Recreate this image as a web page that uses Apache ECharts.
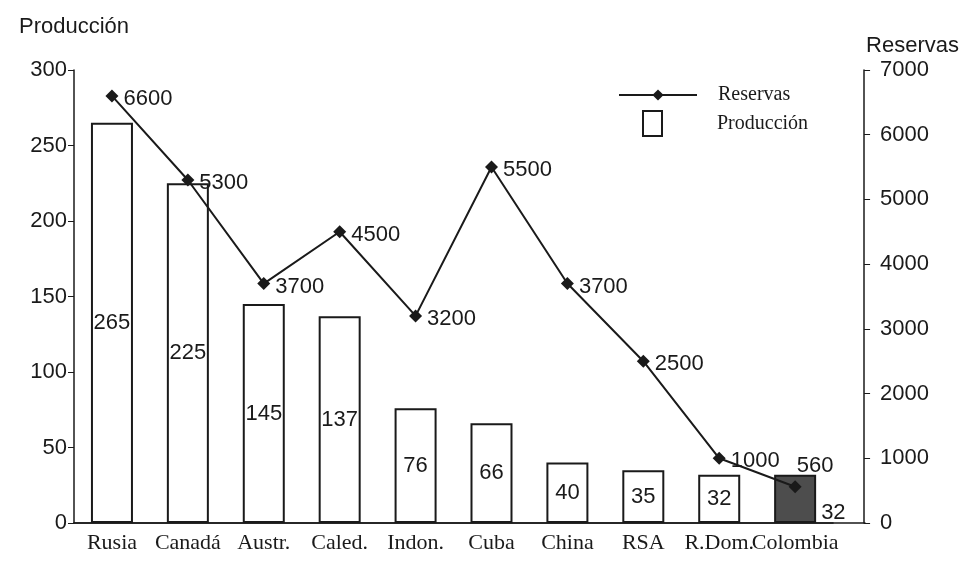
<!DOCTYPE html>
<html>
<head>
<meta charset="utf-8">
<script src="https://cdn.jsdelivr.net/npm/echarts@6/dist/echarts.min.js"></script>
<style>
  html, body { margin: 0; padding: 0; background: #fff; }
  #box { width: 962px; height: 565px; }
</style>
</head>
<body>
<div id="box"></div>
<script>
const categories = ['Rusia', 'Canadá', 'Austr.', 'Caled.', 'Indon.', 'Cuba', 'China', 'RSA', 'R.Dom.', 'Colombia']
const produccion = [265, 225, 145, 137, 76, 66, 40, 35, 32, 32]
const reservas = [6600, 5300, 3700, 4500, 3200, 5500, 3700, 2500, 1000, 560]

const SANS = 'Liberation Sans, Arial, sans-serif'
const SERIF = 'Liberation Serif, Times New Roman, serif'
const INK = '#1a1a1a'

const chart = echarts.init(document.getElementById('box'))

/* Colombia se resalta */
const barData = produccion.map((v, i) => {
    if (categories[i] !== 'Colombia') return v
    return {
        value: v,
        itemStyle: { color: '#4d4d4d' },
        label: { position: 'right', offset: [0, 14] }
    }
})

const lineData = reservas.map((v, i) => {
    if (categories[i] !== 'Colombia') return v
    return { value: v, label: { position: 'top', offset: [20, 2] } }
})

chart.setOption({
    animation: false,
    backgroundColor: '#fff',
    textStyle: { fontFamily: SANS, color: INK },
    grid: [
        { left: 74, right: 128, top: 70, bottom: 42 },
        { left: 74, right: 97, top: 70, bottom: 42 }
    ],
    legend: [
        {
            data: ['Reservas'],
            left: 613, top: 80,
            itemWidth: 78, itemHeight: 14,
            textStyle: { fontFamily: SERIF, fontSize: 20, color: INK, padding: [0, 0, 0, 16] }
        },
        {
            data: [{ name: 'Producción', icon: 'rect' }],
            left: 637, top: 105,
            itemWidth: 19, itemHeight: 25,
            textStyle: { fontFamily: SERIF, fontSize: 20, color: INK, padding: [4, 0, 0, 50] }
        }
    ],
    xAxis: [
        {
            type: 'category',
            gridIndex: 0,
            data: categories,
            axisLine: { lineStyle: { color: INK, width: 1.5 } },
            axisTick: { length: 5, lineStyle: { color: INK } },
            axisLabel: {
                fontFamily: SERIF, fontSize: 22, color: INK, margin: 9,
                interval: 0, hideOverlap: false, overflow: 'none', width: 140
            }
        },
        {
            type: 'value',
            gridIndex: 1,
            axisLine: { show: true, onZero: false, lineStyle: { color: INK, width: 1.5 } },
            axisTick: { show: false },
            axisLabel: { show: false },
            splitLine: { show: false }
        }
    ],
    yAxis: [
        {
            type: 'value',
            gridIndex: 0,
            min: 0, max: 300, interval: 50,
            name: 'Producción',
            nameLocation: 'end',
            nameGap: 32,
            nameTextStyle: { fontSize: 22, color: INK, align: 'center' },
            axisLine: { show: true, lineStyle: { color: INK, width: 1.5 } },
            axisTick: { show: true, length: 6, lineStyle: { color: INK } },
            axisLabel: { fontSize: 22, color: INK, margin: 7 },
            splitLine: { show: false }
        },
        {
            type: 'value',
            gridIndex: 0,
            position: 'right',
            offset: 31,
            min: 0, max: 7000, interval: 1000,
            name: 'Reservas',
            nameLocation: 'end',
            nameGap: 13,
            nameTextStyle: { fontSize: 22, color: INK, align: 'left', padding: [0, 0, 0, 2] },
            axisLine: { show: true, lineStyle: { color: INK, width: 1.5 } },
            axisTick: { show: true, length: 6, lineStyle: { color: INK } },
            axisLabel: { fontSize: 22, color: INK, margin: 16, formatter: v => String(v) },
            splitLine: { show: false }
        },
        {
            type: 'value',
            gridIndex: 1,
            show: false
        }
    ],
    series: [
        {
            name: 'Producción',
            type: 'bar',
            xAxisIndex: 0,
            yAxisIndex: 0,
            data: barData,
            barWidth: 42,
            itemStyle: { color: '#fff', borderColor: INK, borderWidth: 2 },
            label: {
                show: true,
                position: 'inside',
                fontSize: 22,
                color: INK
            },
            z: 2
        },
        {
            name: 'Reservas',
            type: 'line',
            xAxisIndex: 0,
            yAxisIndex: 1,
            data: lineData,
            symbol: 'diamond',
            symbolSize: 13,
            lineStyle: { color: INK, width: 2 },
            itemStyle: { color: INK },
            label: {
                show: true,
                position: 'right',
                distance: 5,
                offset: [0, 3],
                fontSize: 22,
                color: INK
            },
            z: 3
        }
    ]
})
</script>
</body>
</html>
